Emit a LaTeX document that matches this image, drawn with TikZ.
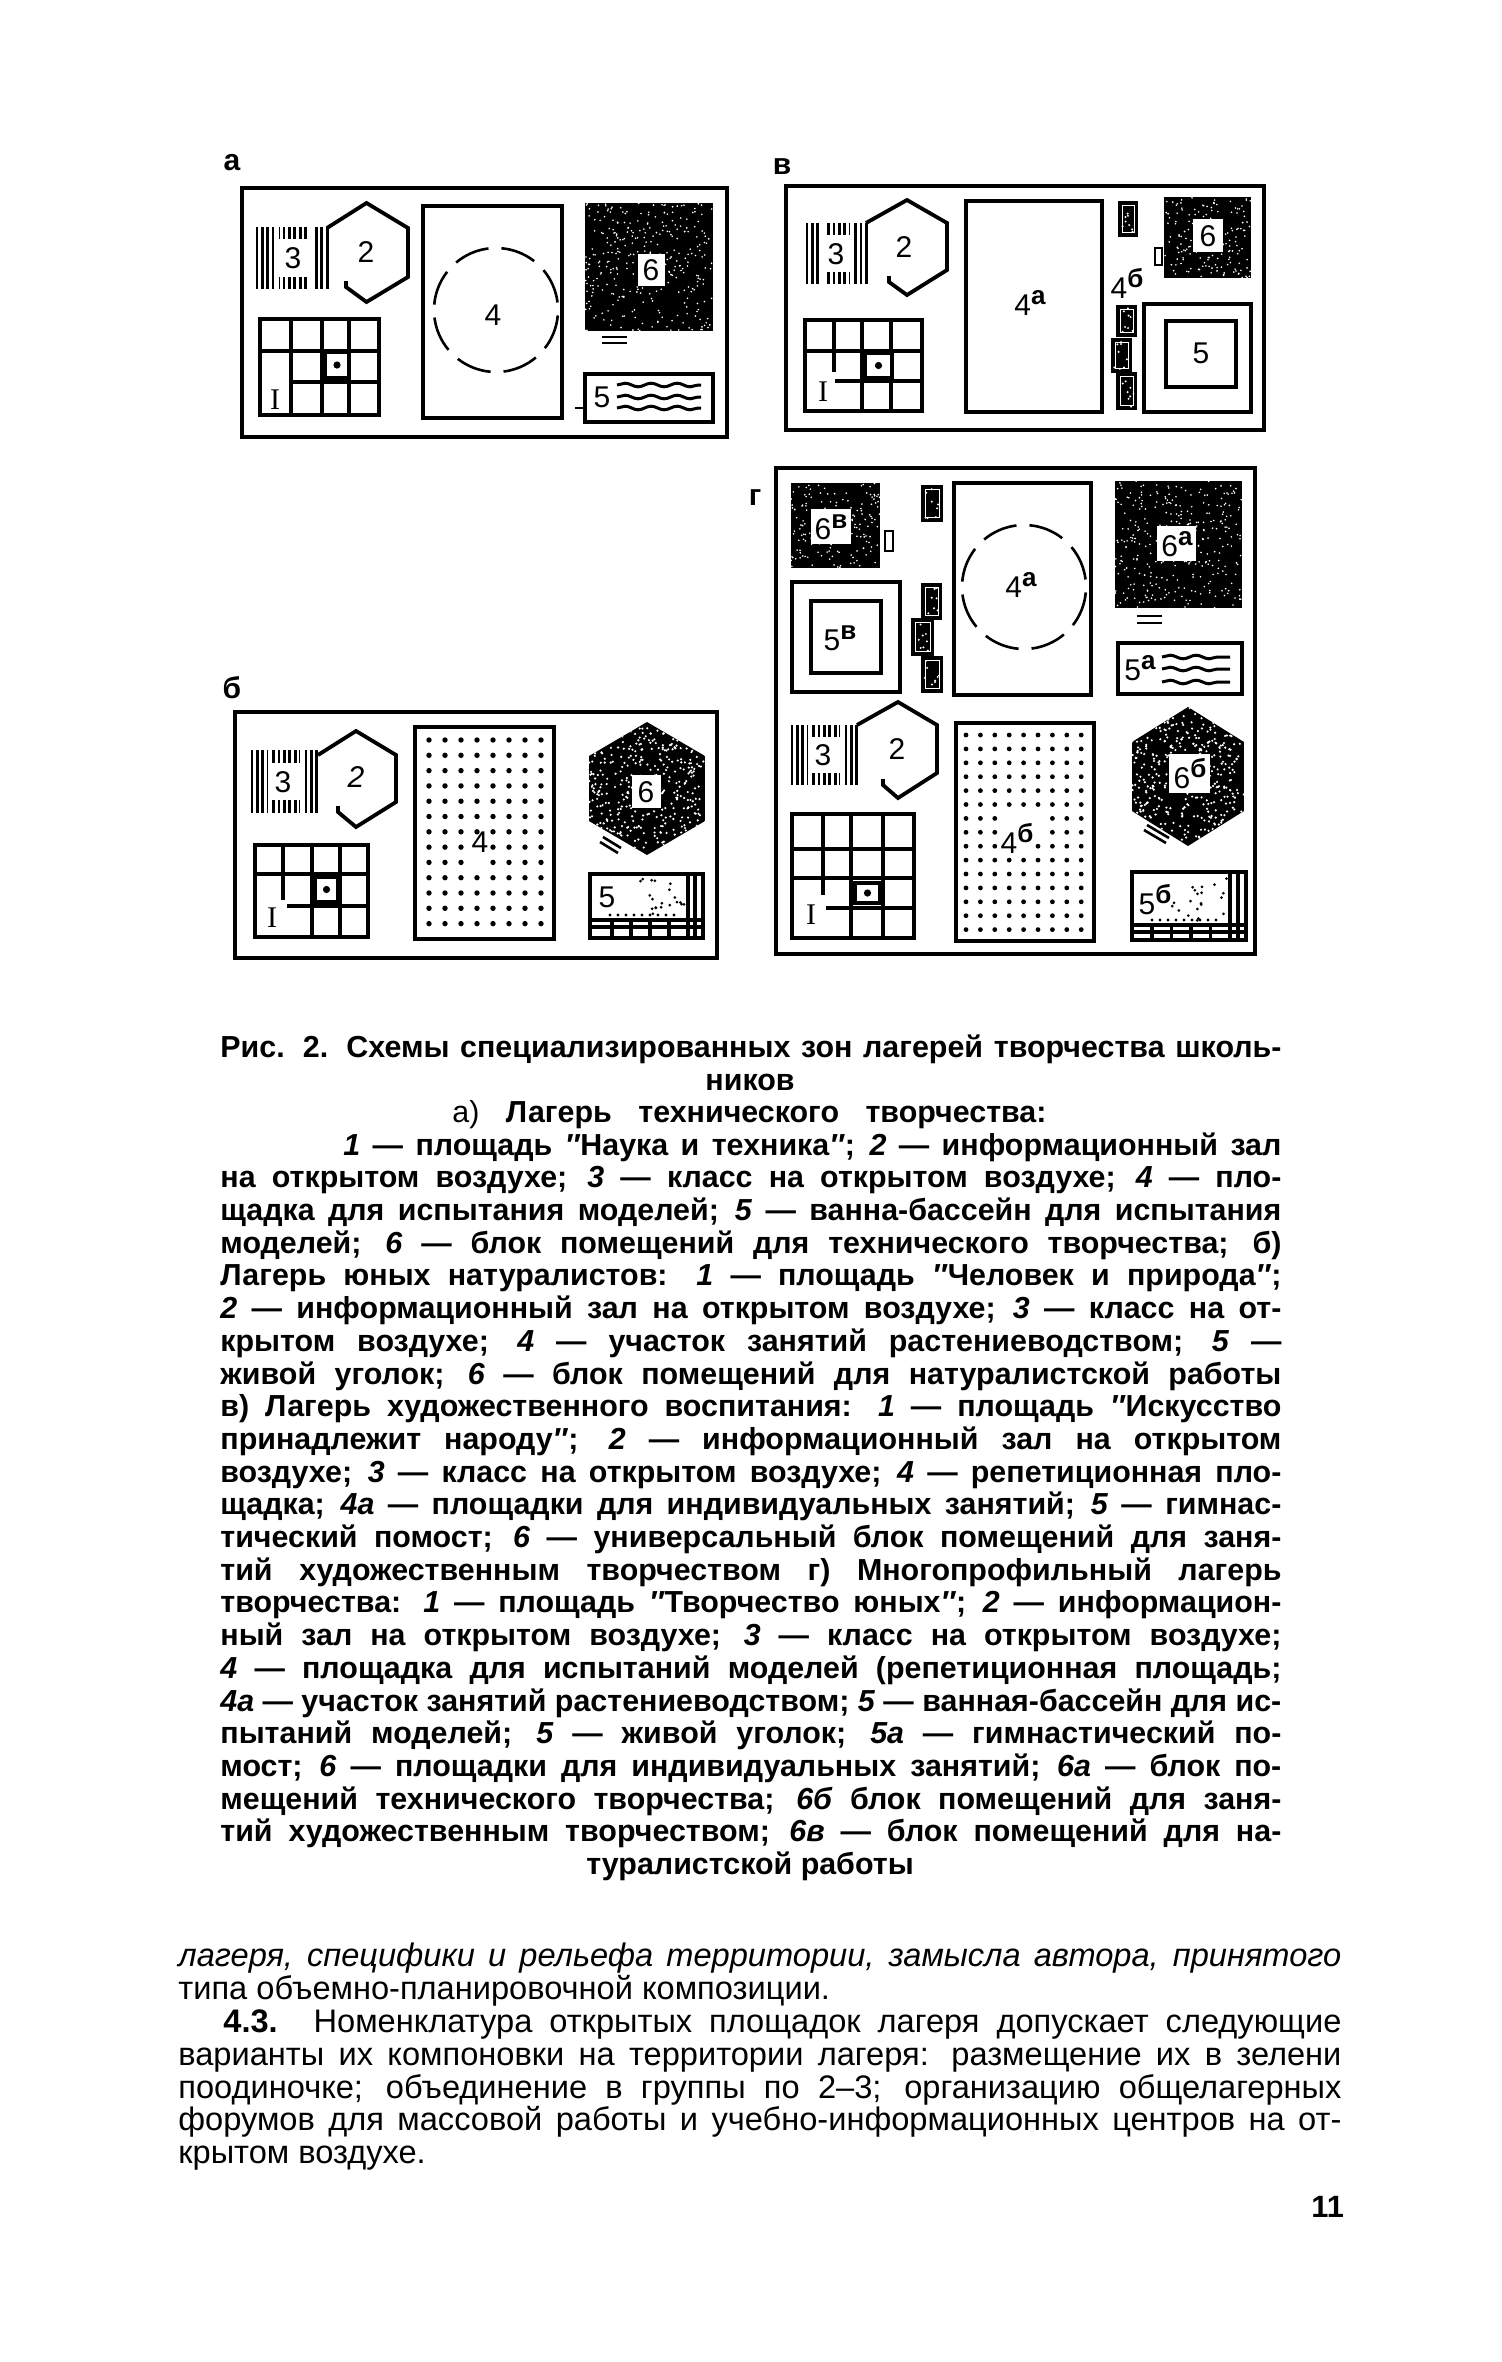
\documentclass[tikz,border=0pt]{standalone}
\usepackage{fontspec}
\setmainfont{Liberation Sans}
\newfontfamily\romanfont{Liberation Serif}
\usetikzlibrary{decorations.pathmorphing}
\newcommand{\supl}[1]{\raisebox{5.5pt}{\fontsize{13}{13}\selectfont\bfseries #1}}
\begin{document}
\begin{tikzpicture}[
    x=0.5pt, y=-0.5pt,
    wall/.style={draw, line width=1.9pt},
    thin wall/.style={draw, line width=1.2pt},
    dark/.style={fill=black},
    num/.style={font=\fontsize{15}{15}\selectfont, inner sep=0pt},
    tag/.style={font=\fontsize{15}{15}\selectfont\bfseries, inner sep=0pt},
    capline/.style={font=\fontsize{15.2}{16}\selectfont\bfseries, inner sep=0pt, anchor=base west},
    bodyline/.style={font=\fontsize{16.3}{17}\selectfont, inner sep=0pt, anchor=base west},
    wave/.style={line width=1.5pt, decorate, decoration={snake, amplitude=0.9pt, segment length=13pt}}
]
    \useasboundingbox (0,0) rectangle (1501,2362);
    \pgfmathsetseed{11}

    % panels
    \draw [wall] (242,188) rectangle (727,437);
    \draw [wall] (786,186) rectangle (1264,430);
    \draw [wall] (235,712) rectangle (717,958);
    \draw [wall] (776,468) rectangle (1255,954);
    \node (taga) [tag] at (232,163) {а};
    \node (tagv) [tag] at (782,167) {в};
    \node (tagb) [tag] at (232,688) {б};
    \node (tagg) [tag] at (755,498) {г};

    % striped classes
    \foreach \xa/\ya/\xb/\yb in {257/227/329/289, 807/223/867/284, 252/750/318/813, 792/725/858/785} {
        \pgfmathsetmacro{\xc}{\xa+5.4}
        \foreach \x in {\xa,\xc,...,\xb}
            \draw [line width=1.4pt] (\x,\ya) -- (\x,\yb);
        \fill [white] ({\xa+0.3*(\xb-\xa)},{\ya+0.2*(\yb-\ya)}) rectangle ({\xa+0.72*(\xb-\xa)},{\yb-0.2*(\yb-\ya)});
        \fill [white] ({\xa+0.24*(\xb-\xa)},\ya) rectangle ({\xa+0.3*(\xb-\xa)},\yb);
        \fill [white] ({\xa+0.72*(\xb-\xa)},\ya) rectangle ({\xa+0.78*(\xb-\xa)},\yb);
    }
    \node (a3) [num] at (293,258) {3};
    \node (v3) [num] at (836,254) {3};
    \node (b3) [num] at (283,782) {3};
    \node (g3) [num] at (823,755) {3};

    % halls
    \foreach \xl/\xt/\xr/\xe/\yu/\yt/\yl/\yb/\ye in {327/366.5/408/346/228/203/277/302/287, 866/907/947/889/223/200/270/295/282, 318/356/396/338/755/731/802/827/812, 857/898/937/883/725/702/773/798/785}
        \draw [wall] (\xe,\ye-6) -- (\xe,\ye) -- (\xt,\yb) -- (\xr,\yl) -- (\xr,\yu) -- (\xt,\yt) -- (\xl,\yu);
    \node (a2) [num] at (366,252) {2};
    \node (v2) [num] at (904,247) {2};
    \node (b2) [num] at (356,777) {\itshape 2};
    \node (g2) [num] at (897,749) {2};

    % squares
    \draw [wall] (260,319) rectangle (379,415);
    \draw [wall] (291,319) -- (291,415) (322,319) -- (322,415) (349,319) -- (349,415);
    \draw [wall] (260,351) -- (379,351) (291,382) -- (379,382);
    \draw [wall] (805,320) rectangle (922,411);
    \draw [wall] (834,320) -- (834,372) (862,320) -- (862,411) (891,320) -- (891,411);
    \draw [wall] (805,351) -- (922,351) (835,381) -- (922,381);
    \draw [wall] (255,845) rectangle (368,937);
    \draw [wall] (283,845) -- (283,900) (312,845) -- (312,937) (340,845) -- (340,937);
    \draw [wall] (255,874) -- (368,874) (287,906) -- (368,906);
    \draw [wall] (792,814) rectangle (914,938);
    \draw [wall] (823,814) -- (823,895) (851,814) -- (851,938) (883,814) -- (883,938);
    \draw [wall] (792,849) -- (914,849) (792,878) -- (914,878) (826,908) -- (914,908);
    \foreach \xa/\ya/\xb/\yb in {325/352/349/378, 865/353/892/378, 315/877/338/902, 855/883/880/903} {
        \draw [wall, fill=white] (\xa,\ya) rectangle (\xb,\yb);
        \fill ({(\xa+\xb)/2},{(\ya+\yb)/2}) circle (3.6);
    }
    \node (a1) [num, font=\fontsize{15}{15}\selectfont\romanfont] at (275,400) {I};
    \node (v1) [num, font=\fontsize{15}{15}\selectfont\romanfont] at (823,392) {I};
    \node (b1) [num, font=\fontsize{15}{15}\selectfont\romanfont] at (272,918) {I};
    \node (g1) [num, font=\fontsize{15}{15}\selectfont\romanfont] at (811,915) {I};

    % model grounds
    \draw [wall] (423,206) rectangle (562,418);
    \draw [wall] (966,201) rectangle (1102,412);
    \draw [wall] (415,727) rectangle (554,939);
    \draw [wall] (954,483) rectangle (1091,695);
    \draw [wall] (956,723) rectangle (1094,941);
    \foreach \cx/\cy in {496/310, 1024/587}
        \foreach \a in {5,50,...,320}
            \draw [line width=1.3pt] (\cx,\cy) ++(\a:62) arc [start angle=\a, delta angle=33, radius=62];
    \node (a4) [num] at (493,315) {4};
    \node (v4) [num] at (1030,303) {4\supl{а}};
    \node (g4) [num] at (1021,585) {4\supl{а}};
    \foreach \r in {0,...,12}
        \foreach \c in {0,...,7} {
            \ifnum\numexpr\r*10+\c\relax=73 \else\ifnum\numexpr\r*10+\c\relax=83 \else
                \fill (429+\c*16,740+\r*15.3) circle (2.7);
            \fi\fi
        }
    \node (b4) [num] at (480,842) {4};
    \foreach \r in {0,...,14}
        \foreach \c in {0,...,8} {
            \pgfmathtruncatemacro{\skipit}{(\r>5)&&(\r<9)&&(\c>2)&&(\c<6)&&!(\r==8&&\c==5)}
            \ifnum\skipit=0
                \fill (966+\c*14.4,735+\r*13.9) circle (2.4);
            \fi
        }
    \node (g4b) [num] at (1017,838) {4\supl{б}};

    % dark blocks
    \foreach \xa/\ya/\xb/\yb/\cnt in {585/203/713/331/330, 1164/197/1251/278/170, 791/483/880/568/170, 1115/481/1242/608/330} {
        \fill [dark] (\xa,\ya) rectangle (\xb,\yb);
        \foreach \n in {1,...,\cnt}
            \fill [white] ({\xa+rnd*(\xb-\xa)},{\ya+rnd*(\yb-\ya)}) circle (0.9);
    }
    \foreach \xa/\ya/\xb/\yb/\q/\cnt in {589/722/705/855/34/420, 1132/707/1244/846/35/460} {
        \begin{scope}
            \clip (\xa,\ya+\q) -- ({(\xa+\xb)/2},\ya) -- (\xb,\ya+\q) -- (\xb,\yb-\q) -- ({(\xa+\xb)/2},\yb) -- (\xa,\yb-\q) -- cycle;
            \fill [dark] (\xa,\ya) rectangle (\xb,\yb);
            \foreach \n in {1,...,\cnt}
                \fill [white] ({\xa+rnd*(\xb-\xa)},{\ya+rnd*(\yb-\ya)}) circle (1.2);
        \end{scope}
    }
    \foreach \xa/\ya/\xb/\yb in {638/254/665/286, 1193/219/1223/252, 811/509/851/544, 1157/526/1196/561, 632/775/661/808, 1169/754/1210/793}
        \fill [white] (\xa,\ya) rectangle (\xb,\yb);
    \node (a6) [num] at (651,270) {6};
    \node (v6) [num] at (1208,236) {6};
    \node (g6v) [num] at (831,527) {6\supl{в}};
    \node (g6a) [num] at (1177,544) {6\supl{а}};
    \node (b6) [num] at (646,792) {6};
    \node (g6b) [num] at (1190,774) {6\supl{б}};

    % signs beside the blocks
    \draw [line width=1.3pt] (602,337) -- (627,337) (602,343) -- (627,343);
    \draw [line width=1.3pt] (1137,616) -- (1162,616) (1137,623) -- (1162,623);
    \draw [line width=1.3pt] (603,837) -- (621,848) (600,842) -- (618,853);
    \draw [line width=1.3pt] (1147,825) -- (1169,838) (1144,830) -- (1166,843);
    \draw [thin wall] (1155,248) rectangle (1162,265);
    \draw [thin wall] (885,531) rectangle (893,551);

    % small grounds
    \foreach \xa/\ya/\xb/\yb in {1118/201/1138/237, 1116/305/1137/337, 1111/338/1132/373, 1116/372/1137/410, 921/485/943/522, 921/583/942/620, 911/618/934/656, 921/656/943/693} {
        \fill [dark] (\xa,\ya) rectangle (\xb,\yb);
        \draw [white, line width=0.4pt] (\xa+4,\ya+4) rectangle (\xb-4,\yb-5);
        \foreach \n in {1,...,8}
            \fill [white] ({\xa+3+rnd*(\xb-\xa-6)},{\ya+3+rnd*(\yb-\ya-6)}) circle (1.1);
    }
    \node (v4b) [num] at (1127,283) {4\supl{б}};

    % pools with water
    \draw [wall] (585,374) rectangle (713,422);
    \draw [line width=0.8pt] (575,408) -- (585,408);
    \foreach \y in {385,397,408}
        \draw [wave] (617,\y) -- (701,\y);
    \node (a5) [num] at (602,397) {5};
    \draw [wall] (1118,643) rectangle (1242,694);
    \foreach \y in {657,669,682}
        \draw [wave] (1162,\y) -- (1230,\y);
    \node (g5a) [num] at (1140,668) {5\supl{а}};

    % stages
    \draw [wall] (1144,304) rectangle (1251,412);
    \draw [wall] (1166,321) rectangle (1236,387);
    \node (v5) [num] at (1201,353) {5};
    \draw [wall] (792,582) rectangle (900,692);
    \draw [wall] (811,601) rectangle (881,673);
    \node (g5v) [num] at (840,638) {5\supl{в}};

    % animal corners
    \foreach \xa/\ya/\xb/\yb/\xu/\xv/\yu/\yv/\stp in {590/874/703/938/688/695/920/927/19, 1132/872/1246/940/1230/1238/925/932/19.5} {
        \draw [wall] (\xa,\ya) rectangle (\xb,\yb);
        \draw [wall] (\xu,\ya) -- (\xu,\yb) (\xv,\ya) -- (\xv,\yb) (\xa,\yu) -- (\xb,\yu) (\xa,\yv) -- (\xb,\yv);
        \foreach \k in {1,...,4}
            \draw [wall] (\xu-\k*\stp,\yu) -- (\xu-\k*\stp,\yb);
        \foreach \n in {1,...,20}
            \fill ({\xa+0.35*(\xb-\xa)+rnd*0.5*(\xb-\xa)},{\ya+5+rnd*(\yu-\ya-9)}) circle (1.5);
        \foreach \k in {1,...,9}
            \fill ({\xu-6-\k*8},\yu-5) circle (1.7);
    }
    \node (b5) [num] at (607,897) {5};
    \node (g5b) [num] at (1155,900) {5\supl{б}};

    % caption
    \node (cap1) [capline] at (220,1057) {\hbox to 530.5pt{Рис. 2. Схемы специализированных зон лагерей творчества школь-}};
    \node (cap2) [capline, anchor=base] at (750,1090) {ников};
    \node (cap3) [capline] at (452,1122) {\hbox to 297pt{{\mdseries а)} Лагерь технического творчества:}};
    \foreach \txt [count=\i from 4] in {
        {на открытом воздухе; \textit{3} — класс на открытом воздухе; \textit{4} — пло-},
        {щадка для испытания моделей; \textit{5} — ванна-бассейн для испытания},
        {моделей; \textit{6} — блок помещений для технического творчества; б)},
        {Лагерь юных натуралистов: \textit{1} — площадь \textit{″}Человек и природа\textit{″};},
        {\textit{2} — информационный зал на открытом воздухе; \textit{3} — класс на от-},
        {крытом воздухе; \textit{4} — участок занятий растениеводством; \textit{5} —},
        {живой уголок; \textit{6} — блок помещений для натуралистской работы},
        {в) Лагерь художественного воспитания: \textit{1} — площадь \textit{″}Искусство},
        {принадлежит народу\textit{″}; \textit{2} — информационный зал на открытом},
        {воздухе; \textit{3} — класс на открытом воздухе; \textit{4} — репетиционная пло-},
        {щадка; \textit{4а} — площадки для индивидуальных занятий; \textit{5} — гимнас-},
        {тический помост; \textit{6} — универсальный блок помещений для заня-},
        {тий художественным творчеством г) Многопрофильный лагерь},
        {творчества: \textit{1} — площадь \textit{″}Творчество юных\textit{″}; \textit{2} — информацион-},
        {ный зал на открытом воздухе; \textit{3} — класс на открытом воздухе;},
        {\textit{4} — площадка для испытаний моделей (репетиционная площадь;},
        {\textit{4а} — участок занятий растениеводством; \textit{5} — ванная-бассейн для ис-},
        {пытаний моделей; \textit{5} — живой уголок; \textit{5а} — гимнастический по-},
        {мост; \textit{6} — площадки для индивидуальных занятий; \textit{6а} — блок по-},
        {мещений технического творчества; \textit{6б} блок помещений для заня-},
        {тий художественным творчеством; \textit{6в} — блок помещений для на-}}
        \node (cap\i x) [capline] at (220,{1057+32.7*\i}) {\hbox to 530.5pt{\txt}};
    \node (cap4) [capline] at (343,1155) {\hbox to 469pt{\textit{1} — площадь \textit{″}Наука и техника\textit{″}; \textit{2} — информационный зал}};
    \node (cap26) [capline, anchor=base] at (750,1874) {туралистской работы};

    % text below
    \node (body1) [bodyline] at (178,1966) {\hbox to 581.5pt{\itshape лагеря, специфики и рельефа территории, замысла автора, принятого}};
    \node (body2) [bodyline] at (178,1999) {типа объемно-планировочной композиции.};
    \node (body3) [bodyline] at (223,2032) {\hbox to 559pt{\textbf{4.3.} Номенклатура открытых площадок лагеря допускает следующие}};
    \node (body4) [bodyline] at (178,2065) {\hbox to 581.5pt{варианты их компоновки на территории лагеря: размещение их в зелени}};
    \node (body5) [bodyline] at (178,2098) {\hbox to 581.5pt{поодиночке; объединение в группы по 2–3; организацию общелагерных}};
    \node (body6) [bodyline] at (178,2130) {\hbox to 581.5pt{форумов для массовой работы и учебно-информационных центров на от-}};
    \node (body7) [bodyline] at (178,2163) {крытом воздухе.};
    \node (page) [bodyline, font=\fontsize{15.4}{16}\selectfont\bfseries] at (1311,2217) {11};
\end{tikzpicture}
\end{document}
